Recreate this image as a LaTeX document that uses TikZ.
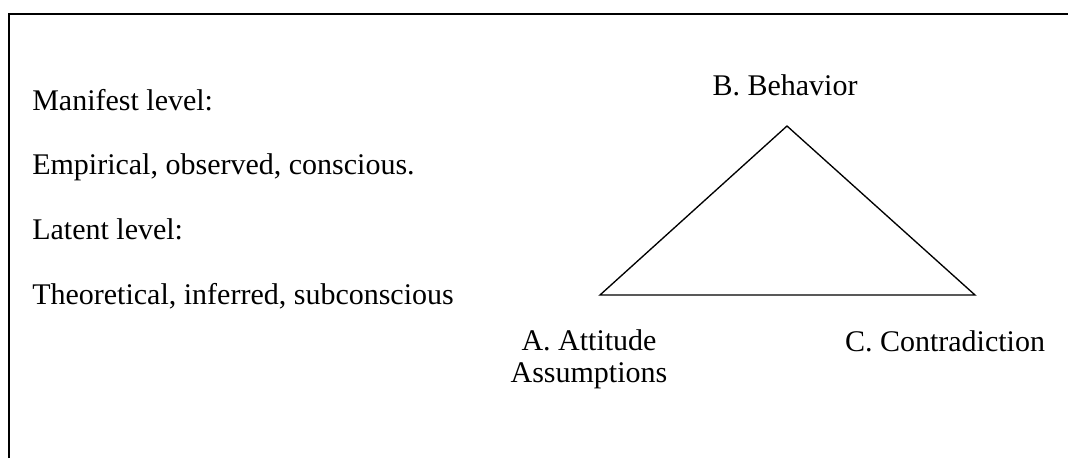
\documentclass[tikz,border=0pt]{standalone}
\usepackage{fontspec}
\setmainfont{Liberation Serif}
\begin{document}
\begin{tikzpicture}[x=0.75pt,y=-0.75pt,
    lbl/.style={inner sep=0pt,font=\fontsize{22.5}{24}\selectfont}]
    \useasboundingbox (0,0) rectangle (1068,458);
    \draw[line width=2pt] (9,458) -- (9,14) -- (1068,14);
    \node[lbl,anchor=base west] (manifest) at (32,110) {Manifest level:};
    \node[lbl,anchor=base west] (empirical) at (32,174) {Empirical, observed, conscious.};
    \node[lbl,anchor=base west] (latent) at (32,239) {Latent level:};
    \node[lbl,anchor=base west] (theoretical) at (32,304) {Theoretical, inferred, subconscious};
    \coordinate (cornerB) at (787,126);
    \coordinate (cornerA) at (600,295);
    \coordinate (cornerC) at (975,295);
    \draw[line width=1pt] (cornerA) -- (cornerB) -- (cornerC) -- cycle;
    \node[lbl,anchor=base] (behavior) at (785,95) {B. Behavior};
    \node[lbl,anchor=base,align=center] (attitude) at (589,382) {A. Attitude\\Assumptions};
    \node[lbl,anchor=base] (contradiction) at (945,351) {C. Contradiction};
  \end{tikzpicture}
\end{document}
